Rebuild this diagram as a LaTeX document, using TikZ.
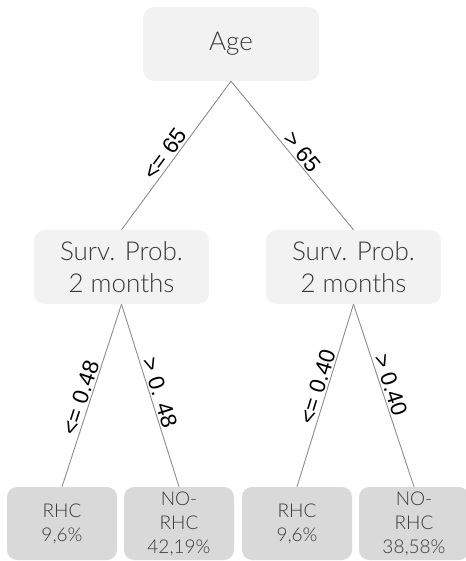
\documentclass[tikz,border=0pt]{standalone}
\usepackage{fontspec}
\setmainfont{Lato Light}
\newfontfamily\labelfont{Liberation Sans}
\definecolor{boxlight}{HTML}{F2F2F2}
\definecolor{boxdark}{HTML}{D9D9D9}
\definecolor{txtgray}{HTML}{3A3A3A}
\definecolor{linegray}{HTML}{8C8C8C}
\begin{document}
\begin{tikzpicture}[x=1pt,y=-1pt,
  topbox/.style={fill=boxlight, rounded corners=11pt, minimum width=176pt, minimum height=74pt,
    text=txtgray, align=center, inner sep=0pt, font=\fontsize{26}{32}\selectfont},
  leafbox/.style={fill=boxdark, rounded corners=10pt, minimum width=110pt, minimum height=73pt,
    text=txtgray, align=center, inner sep=0pt, font=\fontsize{19}{24}\selectfont},
  conn/.style={draw=linegray, line width=0.9pt},
  elabel/.style={sloped, font=\labelfont\fontsize{22.5}{24}\selectfont, text=black, inner sep=1.5pt}
]
\useasboundingbox (0,0) rectangle (465,561);
\node[topbox] (age) at (231,44) {Age};
\node[topbox, minimum width=175pt] (sl) at (121.5,267) {Surv. Prob.\\2 months};
\node[topbox, minimum width=175pt] (sr) at (353.5,267) {Surv. Prob.\\2 months};
\node[leafbox] (l1) at (62,523.5) {RHC\\9,6\%};
\node[leafbox] (l2) at (179,523.5) {NO-\\RHC\\42,19\%};
\node[leafbox] (l3) at (297,523.5) {RHC\\9,6\%};
\node[leafbox] (l4) at (414,523.5) {NO-\\RHC\\38,58\%};
\draw[conn] (age.south) -- node[elabel, pos=0.53, above] {<= 65} (sl.north);
\draw[conn] (age.south) -- node[elabel, pos=0.52, above] {> 65} (sr.north);
\draw[conn] (sl.south) -- node[elabel, pos=0.53, above] {<= 0.48} (l1.north);
\draw[conn] (sl.south) -- node[elabel, pos=0.50, above] {> 0. 48} (l2.north);
\draw[conn] (sr.south) -- node[elabel, pos=0.47, above] {<= 0.40} (l3.north);
\draw[conn] (sr.south) -- node[elabel, pos=0.46, above] {> 0.40} (l4.north);
\end{tikzpicture}
\end{document}
